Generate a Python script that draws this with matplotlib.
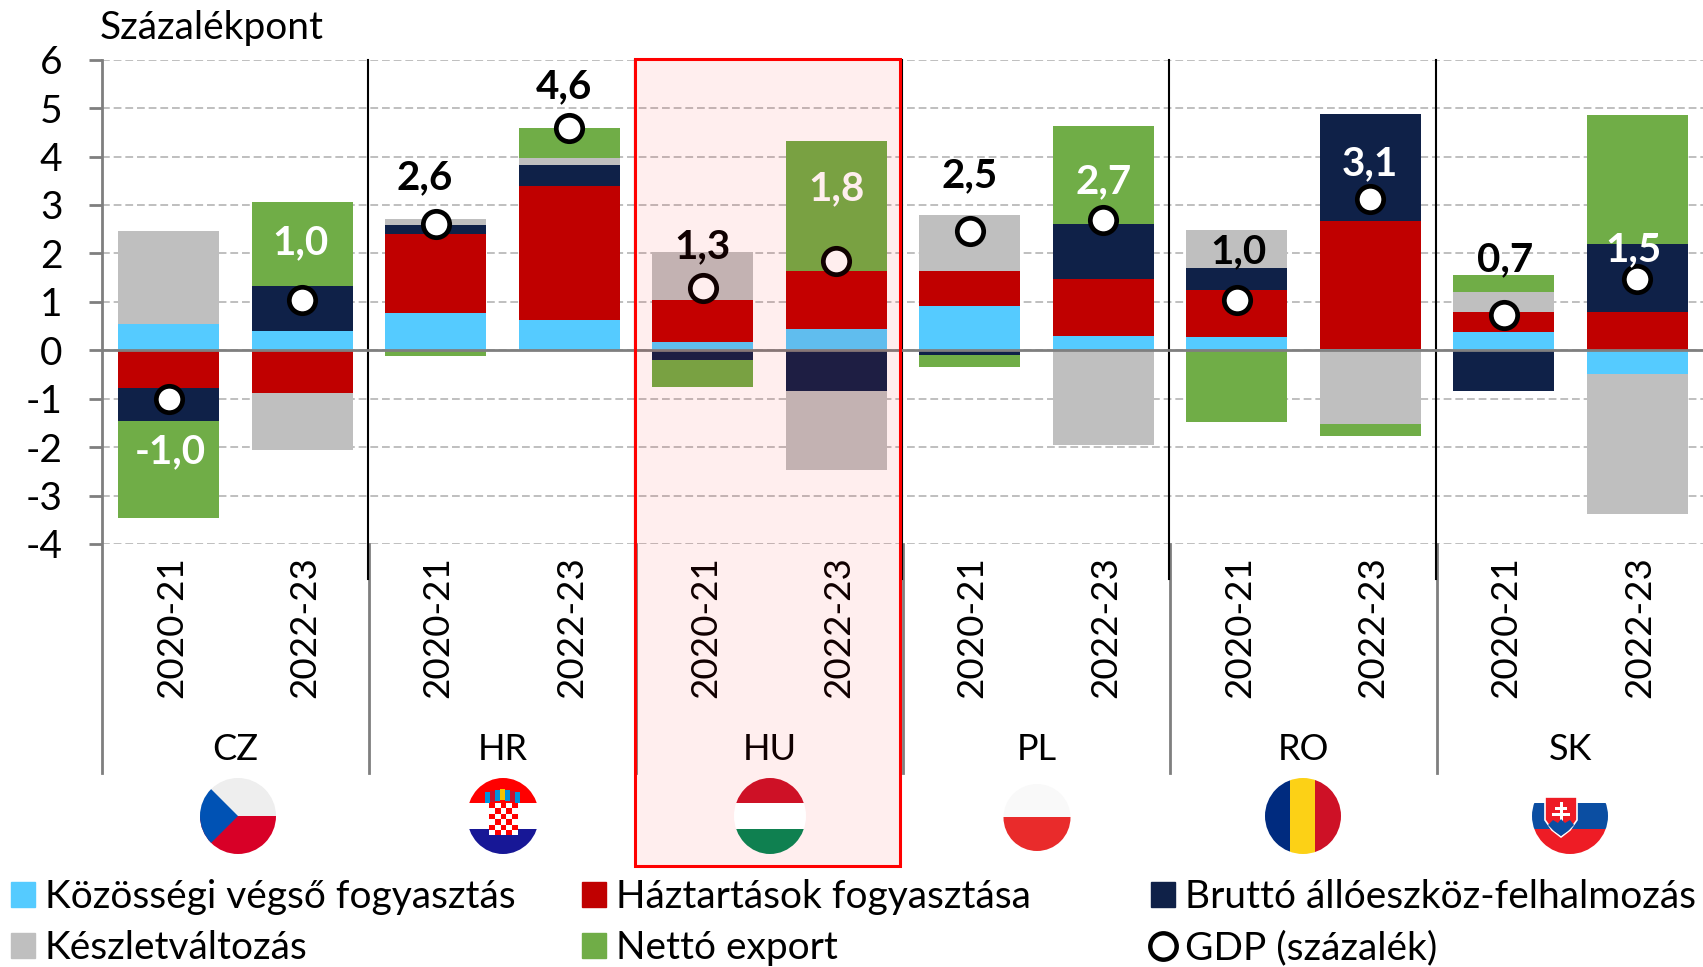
import matplotlib
matplotlib.use('Agg')
import matplotlib.pyplot as plt
from matplotlib.patches import Rectangle, Ellipse, Polygon
from matplotlib.lines import Line2D
from matplotlib.transforms import ScaledTranslation

plt.rcParams['font.family'] = ['Lato', 'DejaVu Sans']

countries = ['CZ', 'HR', 'HU', 'PL', 'RO', 'SK']
periods = ['2020-21', '2022-23'] * 6

# contributions in percentage points, order of stacking
kozossegi = [0.55, 0.40, 0.77, 0.62, 0.18, 0.43, 0.92, 0.30, 0.27, 0.03, 0.38, -0.50]
haztartas = [-0.77, -0.88, 1.63, 2.78, 0.85, 1.20, 0.71, 1.18, 0.98, 2.64, 0.42, 0.80]
brutto = [-0.70, 0.93, 0.18, 0.42, -0.20, -0.84, -0.10, 1.12, 0.45, 2.20, -0.85, 1.40]
keszlet = [1.92, -1.17, 0.14, 0.15, 1.00, -1.63, 1.17, -1.95, 0.78, -1.52, 0.40, -2.88]
netto = [-2.00, 1.74, -0.12, 0.61, -0.55, 2.69, -0.25, 2.03, -1.48, -0.25, 0.35, 2.65]
gdp = [-1.0, 1.03, 2.6, 4.6, 1.28, 1.85, 2.47, 2.7, 1.03, 3.13, 0.73, 1.47]
gdp_labels = ['-1,0', '1,0', '2,6', '4,6', '1,3', '1,8', '2,5', '2,7', '1,0', '3,1', '0,7', '1,5']

label_y = [-2.09, 2.22, 3.56, 5.44, 2.13, 3.34, 3.61, 3.49, 2.04, 3.85, 1.86, 2.08]
label_dx = [0.01, -0.01, -0.08, -0.04, 0.0, 0.0, 0.0, 0.0, 0.01, 0.0, 0.01, -0.03]
label_col = ['white', 'white', 'black', 'black', 'black', 'white', 'black', 'white', 'black', 'white', 'black', 'white']

series = [kozossegi, haztartas, brutto, keszlet, netto]
names = ['Közösségi végső fogyasztás', 'Háztartások fogyasztása', 'Bruttó állóeszköz-felhalmozás',
         'Készletváltozás', 'Nettó export']
colors = ['#55CBFF', '#C00000', '#0F2148', '#BFBFBF', '#70AD47']

W, H = 1703, 967
fig = plt.figure(figsize=(W / 100, H / 100), dpi=100)
ax = fig.add_axes([102 / W, 1 - 544 / H, (W - 101) / W, 484.3 / H])

x = [i + 0.5 for i in range(12)]
pos = [0] * 12
neg = [0] * 12
for vals, col in zip(series, colors):
    bottoms = [pos[i] if vals[i] >= 0 else neg[i] for i in range(12)]
    ax.bar(x, vals, width=0.757, bottom=bottoms, color=col, zorder=3, linewidth=0)
    for i in range(12):
        if vals[i] >= 0:
            pos[i] += vals[i]
        else:
            neg[i] += vals[i]

ax.plot(x, gdp, 'o', ms=19, mfc='white', mec='black', mew=3.4, zorder=5)
for i in range(12):
    ax.text(x[i] + label_dx[i], label_y[i], gdp_labels[i], color=label_col[i], fontsize=29,
            fontweight='bold', ha='center', va='center', zorder=6)

ax.set_xlim(0, 12)
ax.set_ylim(-4, 6)
ax.set_yticks(range(-4, 7))
ax.set_yticklabels([str(v) for v in range(-4, 7)])
ax.set_xticks(x)
ax.set_xticklabels(periods, rotation=90)
ax.tick_params(axis='y', labelsize=28, length=9.5, width=2, color='#7F7F7F', pad=19)
ax.tick_params(axis='x', labelsize=26.5, length=0, pad=9)
shift = ScaledTranslation(2.5 / 100, 0, fig.dpi_scale_trans)
for t in ax.get_xticklabels():
    t.set_transform(t.get_transform() + shift)
ax.grid(axis='y', color='#BFBFBF', linestyle=(0, (4, 2)), linewidth=1.4, zorder=1)
ax.axhline(0, color='#7F7F7F', linewidth=2, zorder=4)
for s in ['top', 'right', 'bottom', 'left']:
    ax.spines[s].set_visible(False)

# group separators, running down through the label area
trans = ax.get_xaxis_transform()
low = (544 - 773) / 484.3
for k in range(6):
    ax.plot([2 * k, 2 * k], [1 if k == 0 else -0.0, low], transform=trans, color='#7F7F7F',
            linewidth=2, clip_on=False, zorder=2)
    if k > 0:
        ax.plot([2 * k - 0.006] * 2, [1, (544 - 579) / 484.3], transform=trans, color='black',
                linewidth=1.5, clip_on=False, zorder=2)
    ax.text(2 * k + 1, (544 - 750) / 484.3, countries[k], transform=trans, fontsize=26,
            ha='center', va='center')

fig.text(100 / W, 1 - 28 / H, 'Százalékpont', fontsize=28, ha='left', va='center')

handles = [Rectangle((0, 0), 1, 1, color=c) for c in colors]
gdp_handle = Line2D([], [], marker='o', ls='', ms=19, mfc='white', mec='black', mew=3.2)
leg_cols = [([handles[0], handles[3]], [names[0], names[3]], 11),
            ([handles[1], handles[4]], [names[1], names[4]], 582),
            ([handles[2], gdp_handle], [names[2], 'GDP (százalék)'], 1151)]
for hs, ls, lx in leg_cols:
    fig.legend(hs, ls, loc='lower left', bbox_to_anchor=(lx / W, 1 / H), frameon=False, fontsize=28,
               handlelength=0.62, handleheight=0.62, handletextpad=0.25, labelspacing=0.38,
               borderpad=0, borderaxespad=0)

# overlay in pixel coordinates for the highlight box and the flags
ov = fig.add_axes([0, 0, 1, 1], zorder=5)
ov.set_xlim(0, W)
ov.set_ylim(H, 0)
ov.axis('off')
ov.add_patch(Rectangle((635, 59), 265, 807, facecolor=(1, 0, 0, 0.065), edgecolor='#FF0000', linewidth=2.2))


def disc(cx, cy, w, h):
    e = Ellipse((cx, cy), w, h, facecolor='none', edgecolor='none')
    ov.add_patch(e)
    return e


def clipped(patch, e):
    ov.add_patch(patch)
    patch.set_clip_path(e)


def bands(cx, cy, w, h, cuts, cols):
    e = disc(cx, cy, w, h)
    for c0, c1, col in zip(cuts[:-1], cuts[1:], cols):
        clipped(Rectangle((cx - w, c0), 2 * w, c1 - c0, color=col, lw=0), e)
    return e


# CZ
e = bands(238, 816, 76, 76, [778, 816, 854], ['#EEEEEE', '#D80027'])
clipped(Polygon([(238, 816), (180, 758), (180, 874)], color='#0052B4', lw=0), e)

# HR
bands(503, 816, 72, 76, [778, 803, 829, 854], ['#FF0000', '#FFFFFF', '#171796'])
for r in range(6):
    for c in range(5):
        col = '#FF0000' if (r + c) % 2 == 0 else 'white'
        ov.add_patch(Rectangle((489 + c * 5.8, 803 + r * 5.4), 5.8, 5.4, color=col, lw=0))
for c, col in enumerate(['#0093DD', '#C8102E', '#0093DD', '#F5C400', '#0093DD', '#C8102E', '#0093DD']):
    ov.add_patch(Rectangle((485 + c * 5, 792 - (3 - abs(c - 3)) * 1.0), 5, 11, color=col, lw=0))

# HU
bands(770, 816, 72, 76, [778, 803, 829, 854], ['#CE1126', '#FFFFFF', '#0F8050'])

# PL
bands(1037, 817.5, 67, 67, [784, 817, 851], ['#F9F9F9', '#E92B2B'])

# RO, vertical stripes
e = disc(1303, 816, 76, 76)
for x0, x1, col in [(1265, 1290, '#002B7F'), (1290, 1315, '#FCD116'), (1315, 1341, '#CE1126')]:
    clipped(Rectangle((x0, 778), x1 - x0, 76, color=col, lw=0), e)

# SK
bands(1570, 816, 76, 76, [778, 803, 829, 854], ['#FFFFFF', '#0B4EA2', '#EE1C25'])
ov.add_patch(Polygon([(1545, 797), (1577, 797), (1577, 820), (1570, 830), (1561, 837), (1552, 830), (1545, 820)],
                     facecolor='#EE1C25', edgecolor='white', linewidth=1.2))
ov.add_patch(Rectangle((1559.5, 802), 3, 24, color='white', lw=0))
ov.add_patch(Rectangle((1555, 807), 12, 2.5, color='white', lw=0))
ov.add_patch(Rectangle((1552, 813), 18, 2.5, color='white', lw=0))
ov.add_patch(Polygon([(1548, 825), (1553, 820), (1558, 823), (1561, 819), (1565, 823), (1570, 820), (1574, 825),
                      (1568, 831), (1561, 836), (1554, 831)], color='#0B4EA2', lw=0))

fig.savefig('out.png', dpi=100)
